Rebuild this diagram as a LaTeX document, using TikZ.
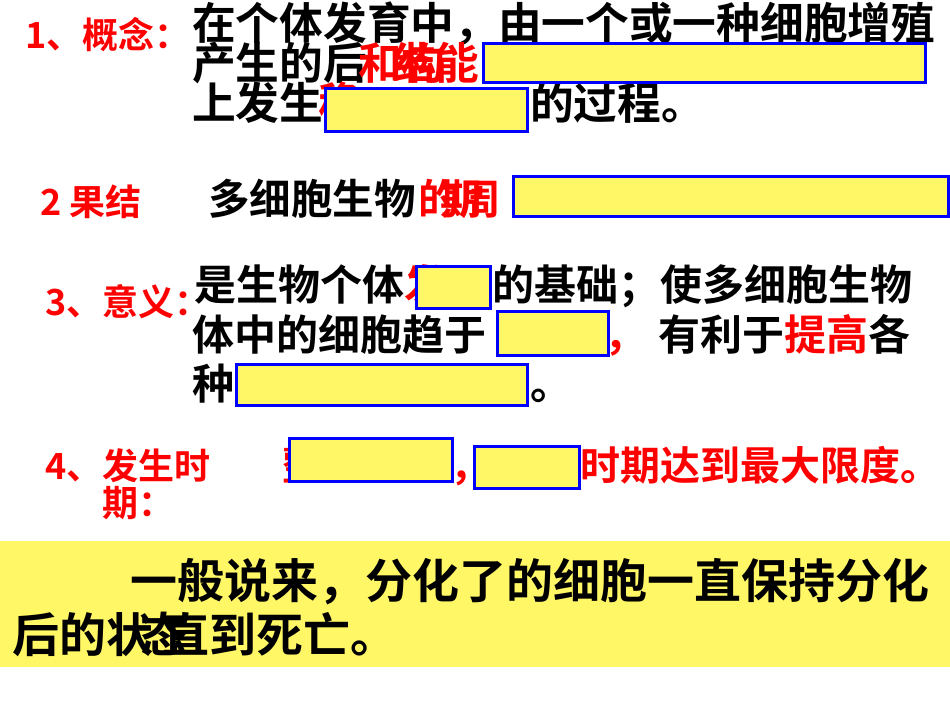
\documentclass[tikz,border=0pt]{standalone}
\usepackage{fontspec}
\setmainfont{Noto Sans CJK SC Bold}
\begin{document}
\begin{tikzpicture}[x=1pt,y=-1pt,
  t/.style={anchor=base west,inner sep=0pt,font=\fontsize{43.7}{44}\selectfont},
  r/.style={t,text=red},
  lab/.style={anchor=base west,inner sep=0pt,text=red,font=\fontsize{36}{36}\selectfont},
  hide/.style={draw=blue,fill=yellow!60!white,line width=3pt}]
\useasboundingbox (0,0) rectangle (950,713);
% 1
\node[lab] (l1) at (25,48) {1、概念：};
\node[t] (a1) at (192,39) {在个体发育中，由一个或一种细胞增殖};
\node[t] (a2) at (192,79) {产生的后};
\node[r] (a2r) at (358,79) {和构};
\node[r] (a2s) at (392,79) {结能};
\node[t] (a3) at (192,119) {上发生};
\node[r] (a3r) at (318,119) {稳};
\node[t] (a3b) at (530,119) {的过程。};
\draw[hide] (483,43) rectangle (925,82);
\draw[hide] (325,88) rectangle (527,131);
% 2
\node[lab] (l2) at (40,215) {2 果结};
\node[t,font=\fontsize{41.5}{42}\selectfont] (b1) at (208,214) {多细胞生物};
\node[r,font=\fontsize{41.5}{42}\selectfont] (b1r) at (418,214) {的周};
\node[r,font=\fontsize{41.5}{42}\selectfont] (b1s) at (440,214) {期};
\draw[hide] (513,176) rectangle (948,216);
% 3
\node[lab] (l3) at (45,315) {3、意义：};
\node[t,font=\fontsize{42}{42}\selectfont] (c1) at (194,300) {是生物个体};
\node[r,font=\fontsize{42}{42}\selectfont] (c1r) at (404,300) {发};
\node[t,font=\fontsize{42}{42}\selectfont] (c1b) at (492,300) {的基础；使多细胞生物};
\node[t,font=\fontsize{42}{42}\selectfont] (c2) at (192,350) {体中的细胞趋于};
\node[r,font=\fontsize{42}{42}\selectfont] (c2r) at (604,350) {，};
\node[t,font=\fontsize{42}{42}\selectfont] (c2b) at (658,350) {有利于};
\node[r,font=\fontsize{42}{42}\selectfont] (c2c) at (784,350) {提高};
\node[t,font=\fontsize{42}{42}\selectfont] (c2d) at (868,350) {各};
\node[t,font=\fontsize{42}{42}\selectfont] (c3) at (192,399) {种};
\node[t,font=\fontsize{42}{42}\selectfont] (c3b) at (530,399) {。};
\draw[hide] (416,266) rectangle (490,308);
\draw[hide] (497,311) rectangle (608,355);
\draw[hide] (236,364) rectangle (527,405);
% 4
\node[lab] (l4) at (45,479) {4、发生时};
\node[lab] (l4b) at (102,516) {期：};
\node[r,font=\fontsize{40}{40}\selectfont] (d0) at (282,480) {整};
\node[r,font=\fontsize{40}{40}\selectfont] (d1) at (450,480) {，};
\node[r,font=\fontsize{40}{40}\selectfont] (d2) at (580,480) {时期达到最大限度。};
\draw[hide] (289,438) rectangle (452,481);
\draw[hide] (474,446) rectangle (579,488);
% bottom
\fill[yellow!60!white] (0,541) rectangle (950,667);
\node[t,font=\fontsize{47}{47}\selectfont] (e1) at (130,598) {一般说来，分化了的细胞一直保持分化};
\node[t,font=\fontsize{47}{47}\selectfont] (e2) at (12,652) {后的状};
\node[t,font=\fontsize{47}{47}\selectfont] (e3) at (140,652) {态};
\node[t,font=\fontsize{47}{47}\selectfont] (e4) at (162,652) {直};
\node[t,font=\fontsize{47}{47}\selectfont] (e5) at (209,652) {到死亡。};
\end{tikzpicture}
\end{document}
